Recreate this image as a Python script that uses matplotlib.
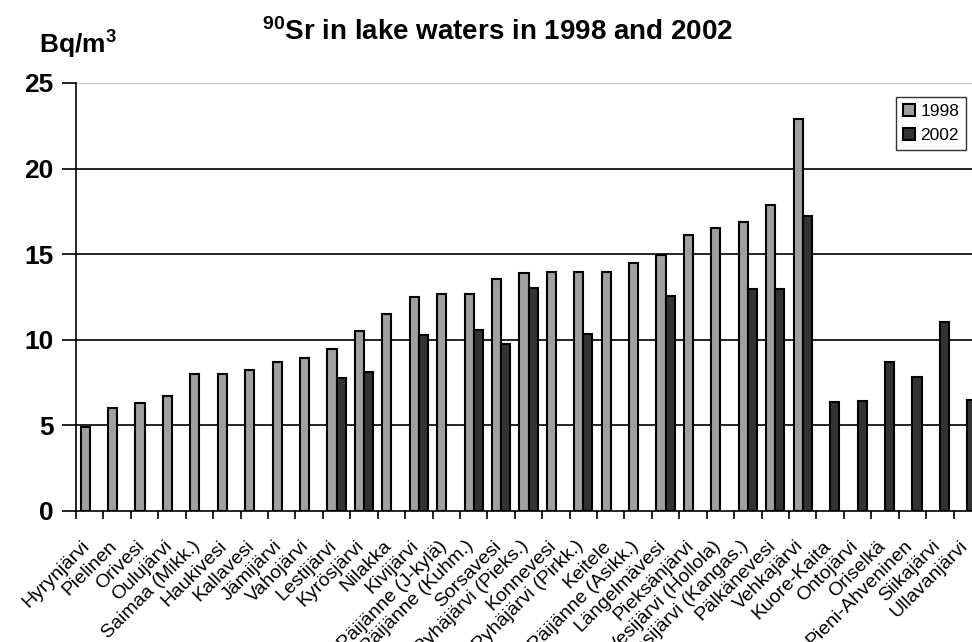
import numpy as np
import matplotlib
matplotlib.use("Agg")
import matplotlib.pyplot as plt

plt.rcParams['font.family'] = ['Liberation Sans', 'DejaVu Sans']
plt.rcParams['mathtext.fontset'] = 'custom'
plt.rcParams['mathtext.rm'] = 'Liberation Sans:bold'
plt.rcParams['mathtext.bf'] = 'Liberation Sans:bold'

# lakes and 90Sr activity (Bq/m3), nan = not measured
lakes = ["Hyrynjärvi", "Pielinen", "Orivesi", "Oulujärvi", "Saimaa (Mikk.)",
         "Haukivesi", "Kallavesi", "Jämijärvi", "Vahojärvi", "Lestijärvi",
         "Kyrösjärvi", "Nilakka", "Kivijärvi", "Päijänne (J-kylä)",
         "Päijänne (Kuhm.)", "Sorsavesi", "Pyhäjärvi (Pieks.)", "Konnevesi",
         "Pyhäjärvi (Pirkk.)", "Keitele", "Päijänne (Asikk.)", "Längelmävesi",
         "Pieksänjärvi", "Vesijärvi (Hollola)", "Vesijärvi (Kangas.)",
         "Pälkänevesi", "Vehkajärvi", "Kuore-Kaita", "Ontojärvi", "Oriselkä",
         "Pieni-Ahveninen", "Siikajärvi", "Ullavanjärvi"]
nan = np.nan
sr_1998 = [4.9, 6.0, 6.3, 6.7, 8.0, 8.0, 8.25, 8.7, 8.95, 9.45,
           10.5, 11.5, 12.5, 12.65, 12.7, 13.55, 13.9, 13.95, 13.95, 13.95,
           14.5, 14.95, 16.1, 16.55, 16.9, 17.85, 22.9,
           nan, nan, nan, nan, nan, nan]
sr_2002 = [nan, nan, nan, nan, nan, nan, nan, nan, nan, 7.75,
           8.1, nan, 10.3, nan, 10.6, 9.75, 13.05, nan, 10.35, nan,
           nan, 12.55, nan, nan, 12.95, 12.95, 17.25,
           6.35, 6.45, 8.7, 7.85, 11.05, 6.5]

fig = plt.figure(figsize=(9.72, 6.42), dpi=100)
# plot area runs past the right edge, as in the original (last bar is cut)
ax = fig.add_axes([76 / 972, 131 / 642, 905 / 972, 428 / 642])

x = np.arange(len(lakes))
w = 0.333
ax.bar(x - w / 2, sr_1998, width=w, color='#a0a0a0', edgecolor='black',
       linewidth=1.5, label='1998', zorder=3)
ax.bar(x + w / 2, sr_2002, width=w, color='#333333', edgecolor='black',
       linewidth=1.5, label='2002', zorder=3)

ax.set_xlim(-0.5, len(lakes) - 0.5)
ax.set_ylim(0, 25)
ax.set_yticks([0, 5, 10, 15, 20, 25])
for v in [5, 10, 15, 20]:
    ax.axhline(v, color='black', linewidth=1.2, zorder=1)
ax.axhline(25, color='#bbbbbb', linewidth=1.2, zorder=1)

for s in ['top', 'right']:
    ax.spines[s].set_visible(False)
ax.spines['left'].set_linewidth(1.2)
ax.spines['bottom'].set_linewidth(1.2)

ax.tick_params(axis='y', direction='out', length=10, width=1.2,
               labelsize=19, pad=6)
for t in ax.get_yticklabels():
    t.set_fontweight('bold')

# labels sit a bit left of the category centre
ax.set_xticks(x - 0.3)
ax.set_xticklabels(lakes, rotation=45, ha='right', rotation_mode='anchor',
                   fontsize=14)
ax.tick_params(axis='x', which='major', length=0, pad=19)
ax.set_xticks(np.arange(len(lakes) + 1) - 0.5, minor=True)
ax.tick_params(axis='x', which='minor', direction='out', length=6, width=1.2)

ax.legend(loc='upper right', bbox_to_anchor=(966 / 972, 1 - 97 / 642),
          bbox_transform=fig.transFigure, borderaxespad=0, fontsize=12.5,
          frameon=True, fancybox=False, edgecolor='black',
          handlelength=0.7, handleheight=0.7, handletextpad=0.3,
          borderpad=0.4, labelspacing=0.5)

fig.text(497 / 972, 1 - 32 / 642, r"$\mathregular{^{90}}$Sr in lake waters in 1998 and 2002",
         ha='center', va='center', fontsize=20, fontweight='bold')
fig.text(39 / 972, 1 - 45 / 642, r"Bq/m$\mathregular{^{3}}$", ha='left', va='center',
         fontsize=19, fontweight='bold')

fig.savefig("out.png", dpi=100)
